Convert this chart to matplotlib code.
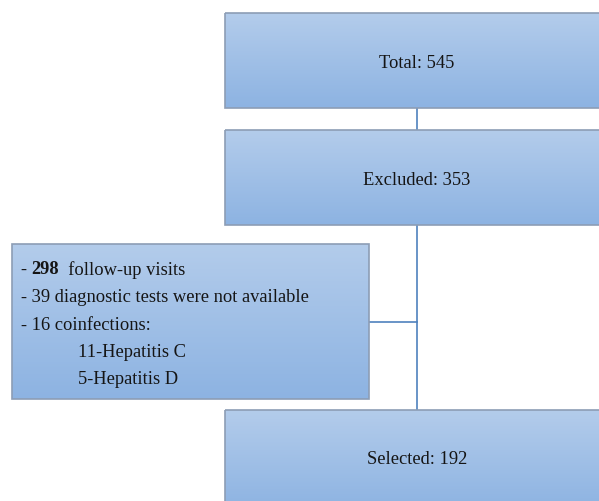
import numpy as np
import matplotlib.pyplot as plt
from matplotlib.colors import LinearSegmentedColormap
from matplotlib.patches import Rectangle

# flowchart content
box_labels = ["Total: 545", "Excluded: 353", "Selected: 192"]
box_x = [225, 225, 225]
box_y = [14, 131, 411]
box_w = [400, 400, 400]
box_h = [95, 95, 100]
label_y = [63, 181, 460]

side_lines = ["- 39 diagnostic tests were not available",
              "- 16 coinfections:",
              "11-Hepatitis C",
              "5-Hepatitis D"]
side_indent = [0, 0, 1, 1]
side_box = (12, 245, 357, 155)

W, H = 599, 502
fig = plt.figure(figsize=(W / 100, H / 100), dpi=100)
ax = fig.add_axes([0, 0, 1, 1])
ax.set_xlim(0, W)
ax.set_ylim(H, 0)
ax.axis("off")

grad = LinearSegmentedColormap.from_list("g", ["#b3cceb", "#8db3e2"])
edge = "#8c9db5"
line_c = "#4f81bd"


def gradient_box(x, y, w, h):
    img = np.linspace(0, 1, 100).reshape(-1, 1)
    ax.imshow(img, cmap=grad, extent=(x, x + w, y + h, y), aspect="auto", zorder=1)
    ax.add_patch(Rectangle((x, y), w, h, fill=False, ec=edge, lw=1.2, zorder=2))


font = dict(family="Liberation Serif", size=13.3, color="#151515")

for lab, x, y, w, h, ty in zip(box_labels, box_x, box_y, box_w, box_h, label_y):
    gradient_box(x, y, w, h)
    ax.text(417, ty, lab, ha="center", va="center", zorder=3, **font)

sx, sy, sw, sh = side_box
gradient_box(sx, sy, sw, sh)

# first line: "- 298  follow-up visits" with the count in bold
fig.canvas.draw()
r = fig.canvas.get_renderer()
x0 = 21
for part, wt in [("- ", "normal"), ("298", "bold"), ("  follow-up visits", "normal")]:
    t = ax.text(x0, 270, part, ha="left", va="center", zorder=3, fontweight=wt, **font)
    bb = t.get_window_extent(renderer=r)
    x0 += bb.width
for i, (s, ind) in enumerate(zip(side_lines, side_indent)):
    ax.text(21 + ind * 57, 298 + i * 27.3, s, ha="left", va="center", zorder=3, **font)

# connectors
ax.plot([417, 417], [109, 131], color=line_c, lw=1.2, zorder=0)
ax.plot([417, 417], [226, 411], color=line_c, lw=1.2, zorder=0)
ax.plot([369, 417], [323, 323], color=line_c, lw=1.2, zorder=0)

fig.savefig("out.png", dpi=100)
